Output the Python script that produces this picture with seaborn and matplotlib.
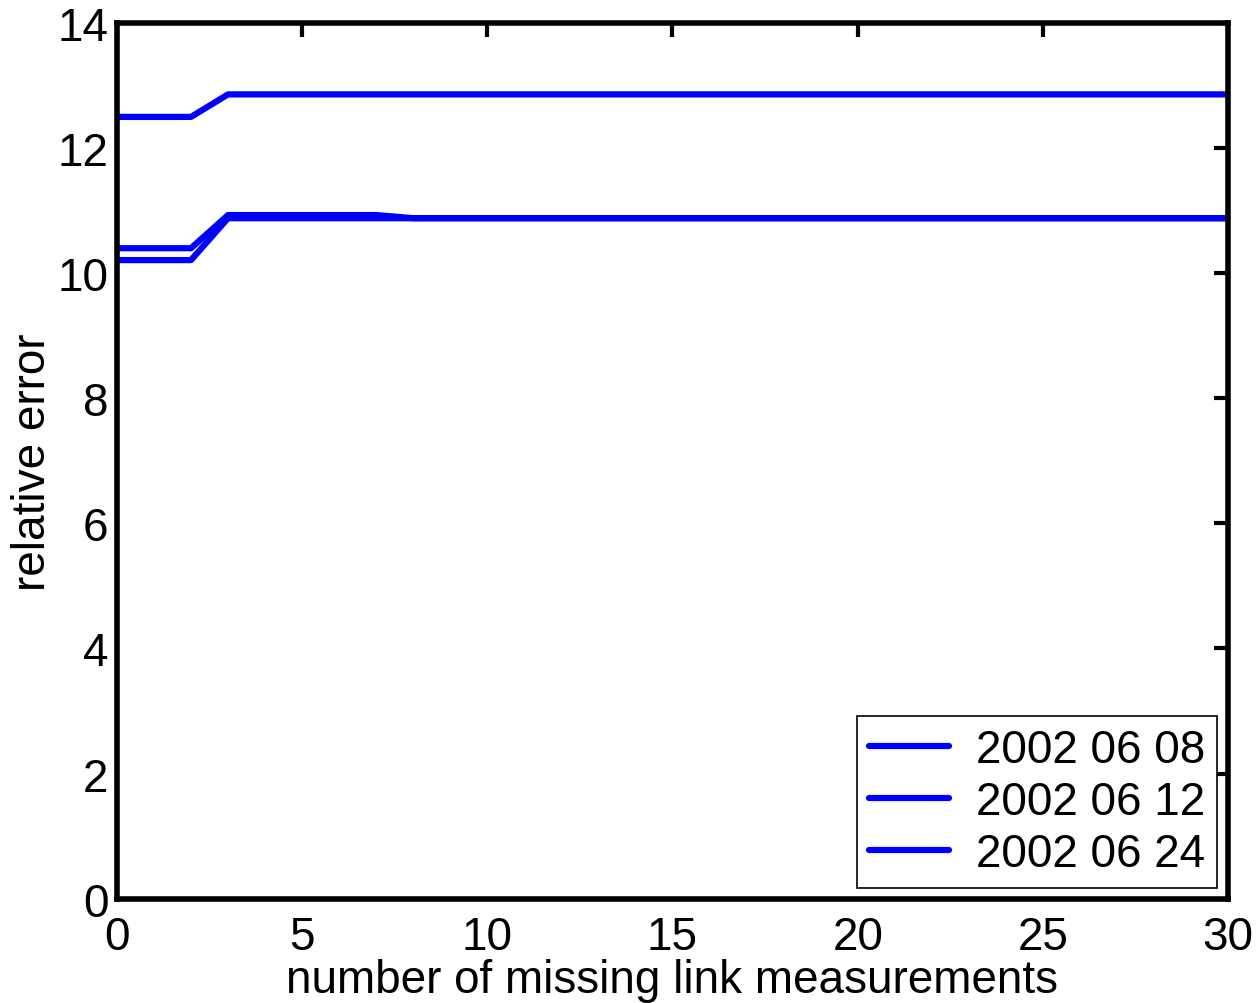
import pandas as pd
import numpy as np
import matplotlib.pyplot as plt
import seaborn as sns

# --- datos ---
missing = list(range(0, 31))
err_0608 = [12.50, 12.50, 12.50] + [12.86] * 28
err_0612 = [10.40, 10.40, 10.40] + [10.93] * 5 + [10.88] * 23
err_0624 = [10.21, 10.21, 10.21] + [10.88] * 28
labels = ['2002 06 08', '2002 06 12', '2002 06 24']

df = pd.DataFrame({
    'missing': missing * 3,
    'error': err_0608 + err_0612 + err_0624,
    'fecha': [labels[0]] * 31 + [labels[1]] * 31 + [labels[2]] * 31,
})

sns.set_style("white")
plt.rcParams['font.family'] = ['Liberation Sans', 'DejaVu Sans']
plt.rcParams['text.color'] = 'black'
plt.rcParams['axes.labelcolor'] = 'black'
plt.rcParams['xtick.color'] = 'black'
plt.rcParams['ytick.color'] = 'black'

fs = 33
fig = plt.figure(figsize=(12.57, 10.04), dpi=100)
ax = fig.add_axes([0.093, 0.104, 0.884, 0.872])

sns.lineplot(data=df, x='missing', y='error', hue='fecha', palette=['#0000ff'] * 3,
             linewidth=4.5, ax=ax)

ax.set_xlim(0, 30)
ax.set_ylim(0, 14)
ax.set_xticks(np.arange(0, 31, 5))
ax.set_yticks(np.arange(0, 15, 2))
ax.set_xlabel('number of missing link measurements', fontsize=fs, labelpad=-1)
ax.set_ylabel('relative error', fontsize=fs, labelpad=2)
ax.tick_params(direction='in', length=10, width=3, top=True, right=True,
               labelsize=fs, pad=6, color='black')
ax.tick_params(axis='x', pad=12)
for s in ax.spines.values():
    s.set_linewidth(4)
    s.set_color('black')

leg = ax.legend(loc='lower right', bbox_to_anchor=(0.990, 0.0126), borderaxespad=0,
                fontsize=fs, handlelength=1.75, handletextpad=0.6, borderpad=0.25,
                labelspacing=0.18, fancybox=False, framealpha=1, edgecolor='black')
leg.get_frame().set_linewidth(1.2)
for line in leg.get_lines():
    line.set_linewidth(4.5)

fig.savefig('out.png', dpi=100)
